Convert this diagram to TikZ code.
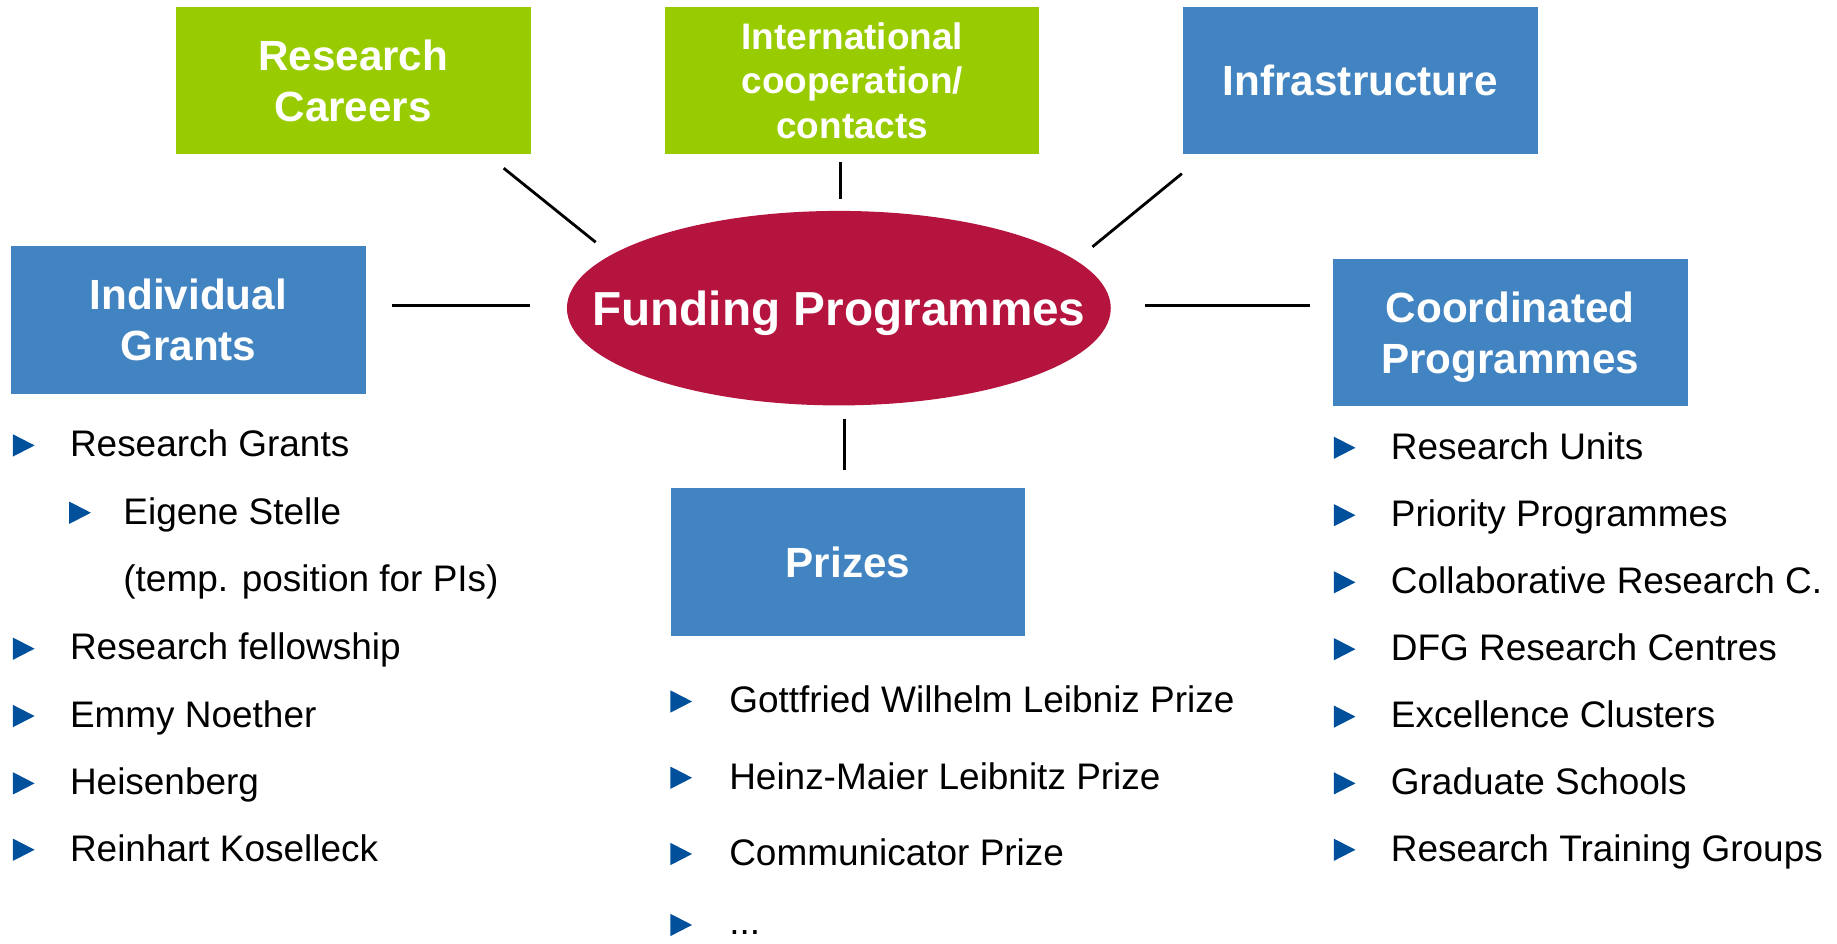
\documentclass[tikz,border=0pt]{standalone}
\usepackage{fontspec}
\setmainfont{Liberation Sans}
\definecolor{dfggreen}{RGB}{153,204,0}
\definecolor{dfgblue}{RGB}{65,132,193}
\definecolor{dfgred}{RGB}{181,20,62}
\definecolor{bulletblue}{RGB}{0,80,155}
\tikzset{
  box/.style={rectangle, minimum width=302.5pt, minimum height=125.5pt, inner sep=0pt,
    text=white, align=center, text depth=0pt, font=\bfseries\fontsize{36}{43.5}\selectfont},
  greenbox/.style={box, fill=dfggreen},
  bluebox/.style={box, fill=dfgblue},
  conn/.style={draw=black, line width=2.4pt},
  item/.style={anchor=base west, inner sep=0pt, font=\fontsize{31.5}{38}\selectfont},
  bul/.pic={\fill[bulletblue] (0,-9.5) -- (18.5,0) -- (0,9.5) -- cycle;}
}
\begin{document}
\begin{tikzpicture}[x=1pt,y=-1pt]
\useasboundingbox (0,0) rectangle (1566,803.9);

% boxes
\node[greenbox, text depth=-4pt] (rc) at (301.1,68.45) {Research\\Careers};
\node[greenbox, minimum width=318.6pt, text depth=-3pt, font=\bfseries\fontsize{31.5}{38}\selectfont] (ic) at (726.6,68.45) {International\\cooperation/\\contacts};
\node[bluebox] (inf) at (1159.55,68.45) {Infrastructure};
\node[bluebox, text depth=-3pt] (ig) at (160.55,272.8) {Individual\\Grants};
\node[bluebox] (cp) at (1287.35,283.2) {Coordinated\\Programmes};
\node[bluebox] (pr) at (722.9,479.1) {Prizes};

% central ellipse
\fill[dfgred] (715.1,262.7) ellipse [x radius=231.8pt, y radius=82.9pt];
\node[inner sep=0pt, text=white, text depth=0pt, font=\bfseries\fontsize{40.7}{48}\selectfont] (fp) at (715.1,262.7) {Funding Programmes};

% connector end points
\coordinate (rcA) at (429.4,143.4);  \coordinate (rcB) at (507.8,206.5);
\coordinate (icA) at (716.5,138);    \coordinate (icB) at (716.5,170);
\coordinate (infA) at (1007.5,148);  \coordinate (infB) at (931.3,210.4);
\coordinate (igA) at (334,260.1);    \coordinate (igB) at (452,260.1);
\coordinate (cpA) at (976,260.1);    \coordinate (cpB) at (1117,260.1);
\coordinate (prA) at (720,357);      \coordinate (prB) at (720,401);
\draw[conn] (rcA) -- (rcB);
\draw[conn] (icA) -- (icB);
\draw[conn] (infA) -- (infB);
\draw[conn] (igA) -- (igB);
\draw[conn] (cpA) -- (cpB);
\draw[conn] (prA) -- (prB);

% left list
\pic at (11,379.7) {bul};  \node[item] (l1) at (59.5,389.3) {Research Grants};
\pic at (59,437.1) {bul};  \node[item] (l2) at (105,446.7) {Eigene Stelle};
\node[item] (l3) at (105,504.4) {(temp. position for PIs)};
\pic at (11,553) {bul};    \node[item] (l4) at (59.5,562.6) {Research fellowship};
\pic at (11,610.4) {bul};  \node[item] (l5) at (59.5,620) {Emmy Noether};
\pic at (11,667.8) {bul};  \node[item] (l6) at (59.5,677.4) {Heisenberg};
\pic at (11,724.4) {bul};  \node[item] (l7) at (59.5,734) {Reinhart Koselleck};

% middle list
\pic at (571.5,598) {bul}; \node[item] (m1) at (621.5,607.7) {Gottfried Wilhelm Leibniz Prize};
\pic at (571.5,663) {bul}; \node[item] (m2) at (621.5,672.7) {Heinz-Maier Leibnitz Prize};
\pic at (571.5,728) {bul}; \node[item] (m3) at (621.5,737.7) {Communicator Prize};
\pic at (571.5,788.5) {bul}; \node[item] (m4) at (621.5,797) {...};

% right list
\pic at (1137,381.7) {bul}; \node[item] (r1) at (1185.5,391.3) {Research Units};
\pic at (1137,439.2) {bul}; \node[item] (r2) at (1185.5,448.8) {Priority Programmes};
\pic at (1137,496.4) {bul}; \node[item] (r3) at (1185.5,506) {Collaborative Research C.};
\pic at (1137,553.4) {bul}; \node[item] (r4) at (1185.5,563) {DFG Research Centres};
\pic at (1137,610.9) {bul}; \node[item] (r5) at (1185.5,620.5) {Excellence Clusters};
\pic at (1137,667.8) {bul}; \node[item] (r6) at (1185.5,677.4) {Graduate Schools};
\pic at (1137,724.4) {bul}; \node[item] (r7) at (1185.5,734) {Research Training Groups};
\end{tikzpicture}
\end{document}
